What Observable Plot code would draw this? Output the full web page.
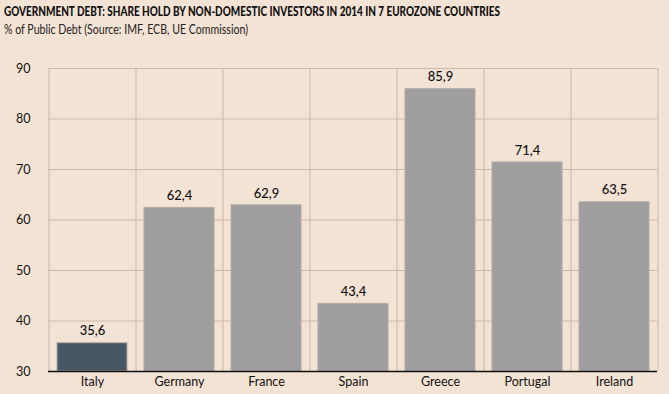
<!DOCTYPE html>
<html>
<head>
<meta charset="utf-8">
<script src="https://cdn.jsdelivr.net/npm/d3@7"></script>
<script src="https://cdn.jsdelivr.net/npm/@observablehq/plot@0.6"></script>
<style>
  html, body { margin: 0; padding: 0; background: #f3e3d5; }
  body { width: 669px; height: 394px; overflow: hidden; font-family: "Lato", "DejaVu Sans", sans-serif; }
  #title { position: absolute; left: 4px; top: 4px; font-size: 12.6px; font-weight: 900; color: #111; white-space: nowrap; transform-origin: 0 50%; }
  #subtitle { position: absolute; left: 4px; top: 22px; font-size: 12.6px; color: #222; white-space: nowrap; transform-origin: 0 50%; }
  #chart { position: absolute; left: 0; top: 45px; }
</style>
</head>
<body>
<div id="title">GOVERNMENT DEBT: SHARE HOLD BY NON-DOMESTIC INVESTORS IN 2014 IN 7 EUROZONE COUNTRIES</div>
<div id="subtitle">% of Public Debt (Source: IMF, ECB, UE Commission)</div>
<div id="chart"></div>
<script>
const countries = ["Italy", "Germany", "France", "Spain", "Greece", "Portugal", "Ireland"];
const shares = [35.6, 62.4, 62.9, 43.4, 85.9, 71.4, 63.5];
const yTicks = [30, 40, 50, 60, 70, 80, 90];
const highlight = "Italy";

const data = countries.map((c, i) => ({country: c, value: shares[i]}));
const fmt = v => v.toFixed(1).replace(".", ",");
const gridColor = "#cbb9a9";

function fitWidth(id, target) {
  const el = document.getElementById(id);
  const w = el.getBoundingClientRect().width;
  if (w > 0) el.style.transform = `scaleX(${target / w})`;
}
fitWidth("title", 496);
fitWidth("subtitle", 244);

const plot = Plot.plot({
  width: 669,
  height: 349,
  marginLeft: 48,
  marginRight: 12,
  marginTop: 23,
  marginBottom: 23,
  style: {background: "transparent", fontFamily: "Lato, 'DejaVu Sans', sans-serif", fontSize: "12.5px", color: "#111"},
  x: {domain: countries, label: null, paddingInner: 0.2, paddingOuter: 0.1, tickSize: 0, tickPadding: 6},
  y: {domain: [30, 90], ticks: yTicks, label: null, tickSize: 0, tickPadding: 18},
  marks: [
    Plot.ruleY(yTicks, {stroke: gridColor, strokeWidth: 1}),
    Plot.ruleX(countries, {x: d => d, dx: -43.5, stroke: gridColor}),
    Plot.ruleX(countries.slice(-1), {x: d => d, dx: 43.5, stroke: gridColor}),
    Plot.barY(data, {
      x: "country", y1: 30, y2: "value",
      fill: d => d.country === highlight ? "#475766" : "#9e9e9e",
      stroke: "#b3aba4", strokeWidth: 1
    }),
    Plot.text(data, {
      x: "country", y: "value", text: d => fmt(d.value),
      dy: -12, fontSize: 13, fill: "#111", fontWeight: 500
    }),
    Plot.ruleY([30], {stroke: "#111", strokeWidth: 1.5})
  ]
});
document.getElementById("chart").appendChild(plot);
</script>
</body>
</html>
